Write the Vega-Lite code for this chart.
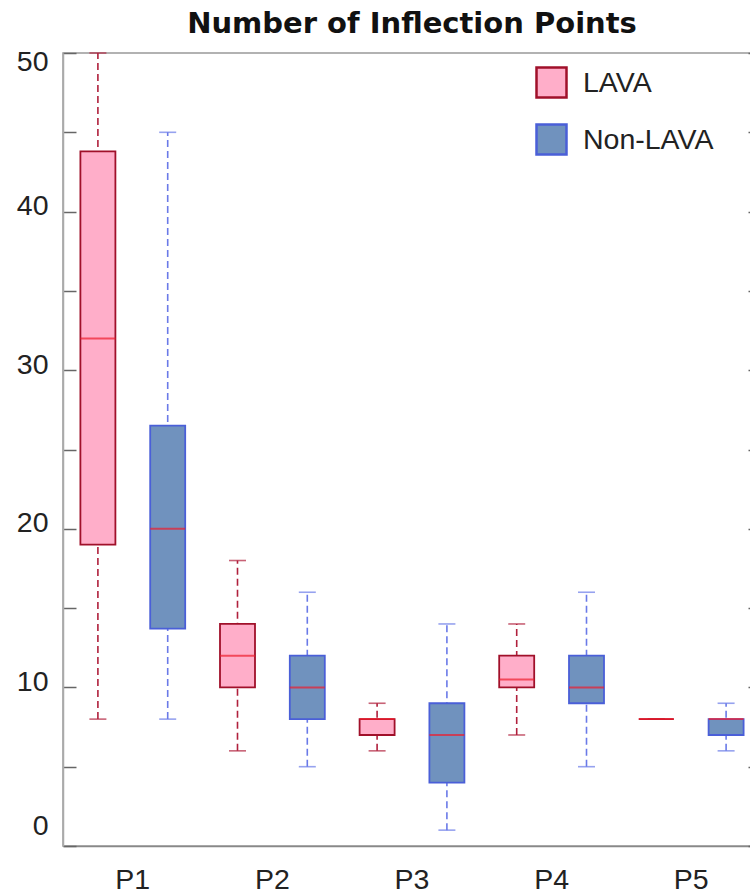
{
  "$schema": "https://vega.github.io/schema/vega-lite/v6.json",
  "autosize": "none",
  "padding": {"left": 63, "top": 53, "right": 0, "bottom": 49},
  "width": 698,
  "height": 793,
  "background": "white",
  "title": {"text": "Number of Inflection Points", "font": "DejaVu Sans", "fontSize": 29, "fontWeight": "bold", "color": "#111", "anchor": "middle", "offset": 8},
  "config": {
    "view": {"stroke": "#999", "strokeWidth": 1.5},
    "font": "Liberation Sans"
  },
  "data": {"values": [
    {"cat": "P1", "group": "LAVA", "min": 8, "q1": 19, "median": 32, "q3": 43.8, "max": 50},
    {"cat": "P1", "group": "Non-LAVA", "min": 8, "q1": 13.7, "median": 20, "q3": 26.5, "max": 45},
    {"cat": "P2", "group": "LAVA", "min": 6, "q1": 10, "median": 12, "q3": 14, "max": 18},
    {"cat": "P2", "group": "Non-LAVA", "min": 5, "q1": 8, "median": 10, "q3": 12, "max": 16},
    {"cat": "P3", "group": "LAVA", "min": 6, "q1": 7, "median": 8, "q3": 8, "max": 9},
    {"cat": "P3", "group": "Non-LAVA", "min": 1, "q1": 4, "median": 7, "q3": 9, "max": 14},
    {"cat": "P4", "group": "LAVA", "min": 7, "q1": 10, "median": 10.5, "q3": 12, "max": 14},
    {"cat": "P4", "group": "Non-LAVA", "min": 5, "q1": 9, "median": 10, "q3": 12, "max": 16},
    {"cat": "P5", "group": "LAVA", "min": 8, "q1": 8, "median": 8, "q3": 8, "max": 8},
    {"cat": "P5", "group": "Non-LAVA", "min": 6, "q1": 7, "median": 8, "q3": 8, "max": 9}
  ]},
  "encoding": {
    "x": {"field": "cat", "type": "nominal", "scale": {"paddingInner": 0, "paddingOuter": 0},
      "axis": {"title": null, "labelAngle": 0, "labelFontSize": 28.5, "labelColor": "#222", "labelPadding": 19, "ticks": false, "domainColor": "#888", "domainWidth": 1.5, "grid": false}},
    "xOffset": {"field": "group", "type": "nominal", "scale": {"paddingInner": 0, "paddingOuter": 0}}
  },
  "resolve": {"axis": {"y": "independent"}, "legend": {"color": "independent", "fill": "independent", "stroke": "independent"}},
  "layer": [
    {
      "mark": {"type": "rule", "strokeDash": [7, 4], "strokeWidth": 1.6},
      "encoding": {
        "y": {"field": "min", "type": "quantitative", "scale": {"domain": [0, 50], "nice": false},
          "axis": {"title": null, "values": [0, 5, 10, 15, 20, 25, 30, 35, 40, 45, 50], "labelExpr": "datum.value % 10 == 0 ? datum.label : ''", "labelFontSize": 28.5, "labelColor": "#222", "labelPadding": 28, "labelFlush": true, "labelOffset": -6, "tickSize": -13, "tickColor": "#666", "tickWidth": 1.5, "domainColor": "#aaa", "domainWidth": 1.5, "grid": false}},
        "y2": {"field": "max"},
        "color": {"field": "group", "type": "nominal", "scale": {"domain": ["LAVA", "Non-LAVA"], "range": ["#b0203c", "#6a7ae8"]}, "legend": null}
      }
    },
    {
      "mark": {"type": "tick", "size": 17, "thickness": 1.6},
      "encoding": {
        "y": {"field": "min", "type": "quantitative",
          "axis": {"orient": "right", "title": null, "values": [0, 5, 10, 15, 20, 25, 30, 35, 40, 45, 50], "labels": false, "tickSize": -13, "tickColor": "#666", "tickWidth": 1.5, "domain": false, "grid": false}},
        "color": {"field": "group", "type": "nominal", "legend": null}
      }
    },
    {
      "mark": {"type": "tick", "size": 17, "thickness": 1.6},
      "encoding": {
        "y": {"field": "max", "type": "quantitative", "axis": null},
        "color": {"field": "group", "type": "nominal", "legend": null}
      }
    },
    {
      "mark": {"type": "bar", "width": 35, "strokeWidth": 1.8},
      "encoding": {
        "y": {"field": "q1", "type": "quantitative", "axis": null},
        "y2": {"field": "q3"},
        "fill": {"field": "group", "type": "nominal", "scale": {"domain": ["LAVA", "Non-LAVA"], "range": ["#ffaec9", "#7092be"]},
          "legend": {"title": null, "orient": "none", "legendX": 472, "legendY": 13, "padding": 0, "symbolType": "square", "symbolSize": 900, "symbolStrokeWidth": 2.5, "labelFont": "Liberation Sans", "labelFontSize": 28.5, "labelColor": "#222", "labelOffset": 15, "rowPadding": 16}},
        "stroke": {"field": "group", "type": "nominal", "scale": {"domain": ["LAVA", "Non-LAVA"], "range": ["#a0102a", "#4a5fd8"]}, "legend": null}
      }
    },
    {
      "mark": {"type": "tick", "size": 35, "thickness": 2, "color": "#ee1c2c"},
      "encoding": {
        "y": {"field": "median", "type": "quantitative", "axis": null}
      }
    }
  ]
}
